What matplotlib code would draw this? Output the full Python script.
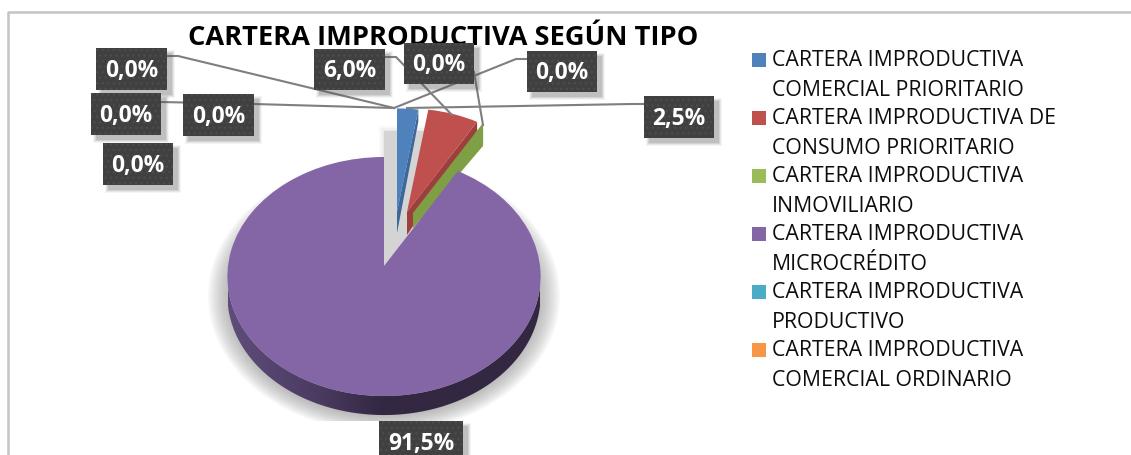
import matplotlib
matplotlib.use('Agg')
import matplotlib.pyplot as plt
import numpy as np
from matplotlib.patches import Rectangle, Polygon, Ellipse
from matplotlib.transforms import Transform, Affine2D

categories = ['CARTERA IMPRODUCTIVA\nCOMERCIAL PRIORITARIO',
              'CARTERA IMPRODUCTIVA DE\nCONSUMO PRIORITARIO',
              'CARTERA IMPRODUCTIVA\nINMOVILIARIO',
              'CARTERA IMPRODUCTIVA\nMICROCRÉDITO',
              'CARTERA IMPRODUCTIVA\nPRODUCTIVO',
              'CARTERA IMPRODUCTIVA\nCOMERCIAL ORDINARIO']
values = [2.5, 6.0, 0.0, 91.5, 0.0, 0.0]
colors = ['#4f81bd', '#c0504d', '#9bbb59', '#8465a5', '#4bacc6', '#f79646']
wall_colors = ['#3d6699', '#9c3f3d', '#7f9f45']

# label text and box position (left, top, width, height in pixels)
label_texts = ['0,0%', '6,0%', '0,0%', '0,0%', '0,0%', '0,0%', '0,0%', '2,5%', '91,5%']
label_boxes = [(96, 48, 71, 42), (314, 49, 71, 41), (404, 43, 70, 41),
               (527, 51, 70, 41), (91, 93, 70, 42), (183, 94, 71, 42),
               (103, 143, 70, 42), (644, 96, 70, 42), (379, 421, 84, 42)]
leaders = [[(167, 56), (178, 56), (394, 108)],
           [(385, 57), (396, 57), (452, 115)],
           [(474, 72), (483, 125)],
           [(527, 59), (516, 59), (394, 108)],
           [(161, 102), (254, 104), (394, 108)],
           [(644, 104), (632, 104), (407, 108)]]

# where each slice is moved to, in pixels, and its size against the main pie
slice_tips = [(397, 212), (407, 212), (413, 213), (384, 266), (384, 266), (384, 266)]
slice_scale = [0.95, 0.95, 0.95, 1.0, 1.0, 1.0]
wall_depth = [(21, 12), (23, 9), (15, 23)]

RX, RY, K = 156.0, 118.6, 0.088
DEPTH = 19
FONT = 'Open Sans'


class Tilt(Transform):
    # unit pie seen from above, y of the screen goes down
    input_dims = output_dims = 2

    def transform_non_affine(self, xy):
        xy = np.asarray(xy, float)
        v = -xy[:, 1]
        w = 1 - K * v
        return np.column_stack([RX * xy[:, 0] / w, RY * v / w])


def tilt_point(angle, scale, tip):
    p = Tilt().transform_non_affine(np.array([[np.sin(angle), np.cos(angle)]]))[0]
    return np.array(tip) + scale * p


fig = plt.figure(figsize=(11.31, 4.55), dpi=100)
ax = fig.add_axes([0, 0, 1, 1])
wedges, _ = ax.pie(values, colors=colors, startangle=90, counterclock=False)
ax.set_aspect('auto')
ax.set_xlim(0, 1131)
ax.set_ylim(455, 0)
ax.axis('off')

# chart frame
ax.plot([8, 8, 1131], [455, 12, 12], color='#c4c4c4', lw=1.8, zorder=1)

# soft shadow under the pie, cut off at the plot area
clip = Rectangle((0, 0), 1131, 421, transform=ax.transData)
for s in np.linspace(1.0, 0.86, 16):
    e = Ellipse((384, 296), 352 * s, 272 * s, color='#8c8c8c', alpha=0.06, lw=0, zorder=2)
    ax.add_patch(e)
    e.set_clip_path(clip)

# shadow the loose slices throw into the gap
gap = [(384, 131), (424, 131), (462, 168), (400, 272), (384, 268)]
ax.add_patch(Polygon(gap, color='white', lw=0, zorder=2.1))
for g, a in [(5, 0.06), (3, 0.08), (1, 0.1), (0, 0.25)]:
    ax.add_patch(Polygon([(384 - g, 131 - g), (424 + g, 131 - g), (462 + g, 168), (400, 272),
                          (384 - g, 268)], color='#9a9a9a', alpha=a, lw=0, zorder=2.2))

# purple rim, lighter on the left
idx = 3
t = np.linspace(np.deg2rad(92), np.deg2rad(268), 120)
front = Tilt().transform_non_affine(np.column_stack([np.sin(t), np.cos(t)])) + np.array(slice_tips[idx])
rim = np.vstack([front, (front + [0, DEPTH])[::-1]])
rim_patch = Polygon(rim, color='none', zorder=3)
ax.add_patch(rim_patch)
rim_img = np.interp(np.linspace(0, 1, 256), [0, 0.5, 0.72, 1], [0, 0, 0.55, 1])[None, :, None]
rim_rgb = rim_img * np.array([0x5f, 0x4c, 0x7c]) / 255 + (1 - rim_img) * np.array([0x33, 0x27, 0x42]) / 255
im = ax.imshow(rim_rgb[:, ::-1], extent=(228, 540, 455, 0), aspect='auto', zorder=3)
im.set_clip_path(rim_patch)
ax.set_xlim(0, 1131)
ax.set_ylim(455, 0)

# walls of the loose slices, then the top faces
end_angle = np.cumsum(values) / 100 * 2 * np.pi
for i in range(3):
    tip = np.array(slice_tips[i], float)
    far = tilt_point(end_angle[i], slice_scale[i], tip)
    near_d, far_d = wall_depth[i]
    pts = [tip, far, far + [0, far_d], tip + [0, near_d]]
    ax.add_patch(Polygon(pts, color=wall_colors[i], lw=0, zorder=4.5))

for i, w in enumerate(wedges):
    move = Affine2D().scale(slice_scale[i]).translate(*slice_tips[i])
    w.set_transform(Tilt() + move + ax.transData)
    w.set_linewidth(0)
    w.set_zorder(6)
wedges[2].set_visible(False)
wedges[4].set_visible(False)
wedges[5].set_visible(False)
wedges[3].set_zorder(4.8)

# leader lines
for pts in leaders:
    xs, ys = zip(*pts)
    ax.plot(xs, ys, color='#7f7f7f', lw=1.5, zorder=7, solid_joinstyle='miter')

ax.text(443.5, 38, 'CARTERA IMPRODUCTIVA SEGÚN TIPO', family=FONT, weight='bold',
        fontsize=19.6, ha='center', va='center', color='black', zorder=8)

# data labels
for txt, (x, y, w, h) in zip(label_texts, label_boxes):
    for g, a in [(3, 0.06), (2, 0.09), (1, 0.12), (0, 0.16)]:
        ax.add_patch(Rectangle((x + 5 - g, y + 5 - g), w + 2 * g, h + 2 * g, color='#555555',
                               alpha=a, lw=0, zorder=9))
    ax.add_patch(Rectangle((x, y), w, h, facecolor='#404040', edgecolor='#4c4c4c', hatch='...',
                           lw=0, zorder=10))
    ax.text(x + w / 2, y + h / 2 + 2, txt, family=FONT, weight='bold', fontsize=16.4,
            color='white', ha='center', va='center', zorder=11)

# legend
line_y = 60
for name, c in zip(categories, colors):
    ax.add_patch(Rectangle((752, line_y - 7), 14, 14, color=c, lw=0, zorder=5))
    for part in name.split('\n'):
        ax.text(772, line_y + 1, part, family=FONT, fontsize=15.35, color='#0d0d0d', ha='left',
                va='center', zorder=5)
        line_y += 29

fig.savefig('out.png', dpi=100)
